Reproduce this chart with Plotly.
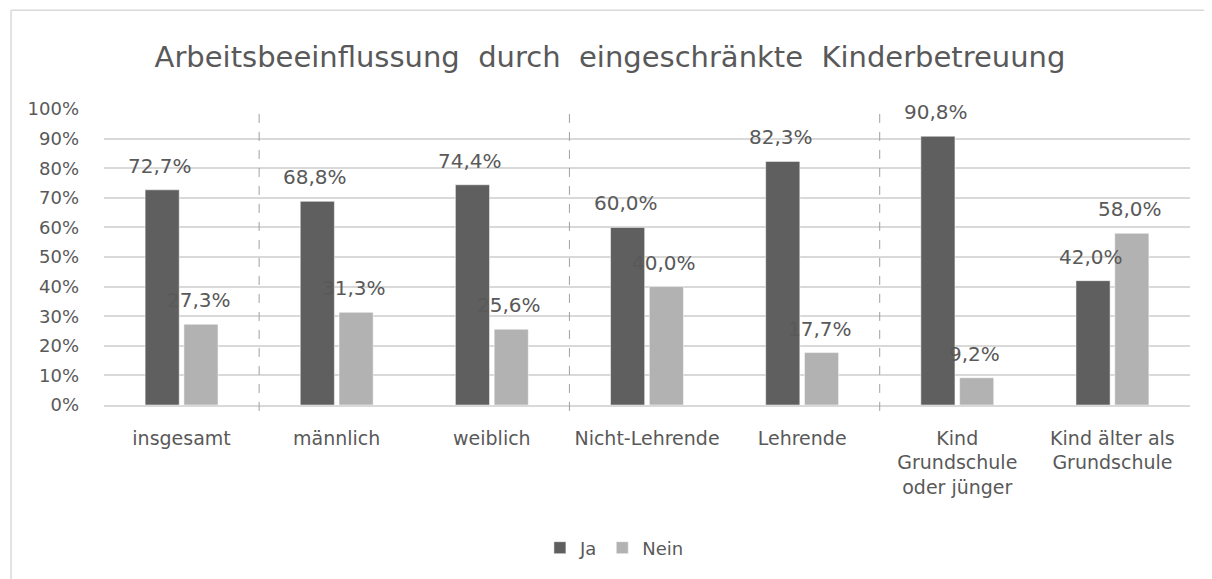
import plotly.graph_objects as go

# Daten
kategorien = ['insgesamt', 'männlich', 'weiblich', 'Nicht-Lehrende', 'Lehrende',
              'Kind<br>Grundschule<br>oder jünger', 'Kind älter als<br>Grundschule']
ja = [0.727, 0.688, 0.744, 0.600, 0.823, 0.908, 0.420]
nein = [0.273, 0.313, 0.256, 0.400, 0.177, 0.092, 0.580]
trenner = [0.5, 2.5, 4.5]  # gestrichelte Linien zwischen Gruppen

font_col = '#595959'
schrift = 'DejaVu Sans'

fig = go.Figure()
fig.add_trace(go.Bar(x=kategorien, y=ja, name='Ja', marker_color='#5f5f5f'))
fig.add_trace(go.Bar(x=kategorien, y=nein, name='Nein', marker_color='#b2b2b2'))

# Datenbeschriftungen etwas oberhalb der Balken (wie in Excel)
versatz = 19.4
for kat, a, b in zip(kategorien, ja, nein):
    for wert, dx in ((a, -versatz), (b, versatz)):
        fig.add_annotation(x=kat, y=wert, xref='x', yref='y',
                           text=f'{wert * 100:.1f}%'.replace('.', ','),
                           showarrow=False, xshift=dx - 2, yshift=10,
                           yanchor='bottom', xanchor='center',
                           font=dict(size=20, color=font_col, family=schrift))

# gestrichelte Trennlinien
for t in trenner:
    fig.add_shape(type='line', xref='x', yref='paper', x0=t, x1=t, y0=-0.02, y1=1.0,
                  line=dict(color='#a0a0a0', width=1, dash='dash'))

# Rahmen um das Diagramm (nur links und oben sichtbar)
fig.add_shape(type='line', xref='paper', yref='paper',
              x0=-0.0856, x1=-0.0856, y0=-0.6, y1=1.334,
              line=dict(color='#d9d9d9', width=1.5), layer='below')
fig.add_shape(type='line', xref='paper', yref='paper',
              x0=-0.0856, x1=1.02, y0=1.334, y1=1.334,
              line=dict(color='#d9d9d9', width=1.5), layer='below')

fig.update_layout(
    template='plotly_white',
    width=1204, height=571,
    margin=dict(l=96, r=22, t=101, b=174),
    barmode='group', bargap=0.5, bargroupgap=0.12,
    font=dict(family=schrift, color=font_col, size=18),
    title=dict(text='Arbeitsbeeinflussung  durch  eingeschränkte  Kinderbetreuung',
               x=0.5, xanchor='center', y=0.914, yanchor='middle',
               font=dict(size=29, color=font_col, family=schrift)),
    yaxis=dict(range=[0, 1], dtick=0.1, tickformat='.0%',
               gridcolor='#d9d9d9', gridwidth=1.5, zeroline=False,
               tickfont=dict(size=18, color=font_col), ticklabelstandoff=24),
    xaxis=dict(showline=True, linecolor='#d9d9d9', linewidth=1.5,
               tickfont=dict(size=19, color=font_col), ticklabelstandoff=15),
    legend=dict(orientation='h', x=0.47, xanchor='center', y=-0.483, yanchor='middle',
                font=dict(size=18, color=font_col), itemwidth=30),
    plot_bgcolor='white', paper_bgcolor='white',
)

fig.write_html('out.html')
